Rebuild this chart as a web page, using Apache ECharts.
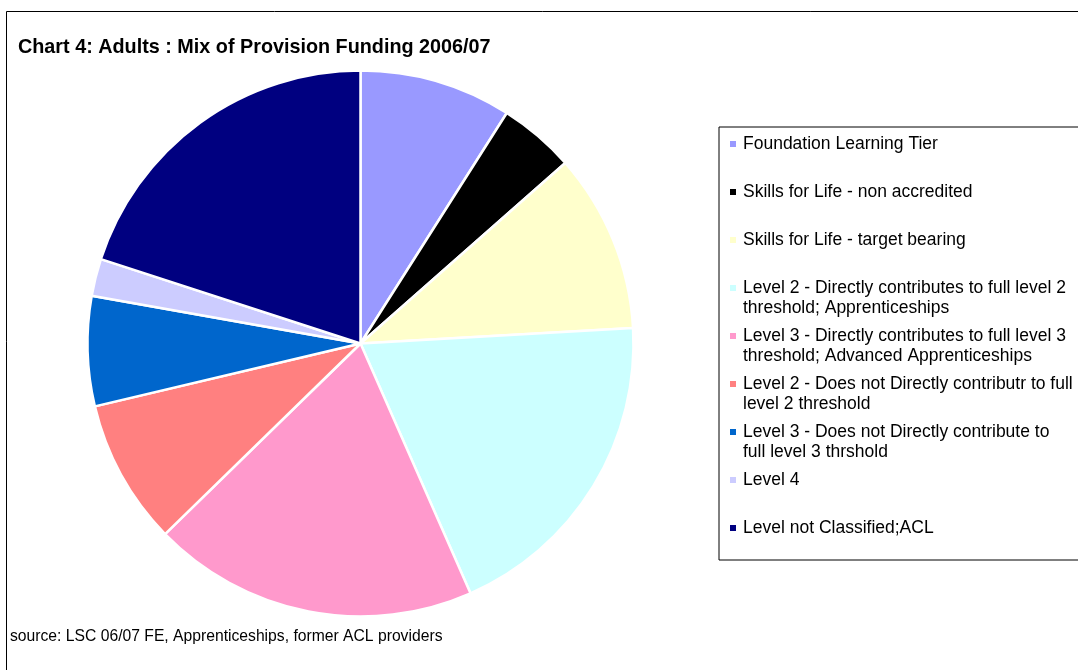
<!DOCTYPE html>
<html>
<head>
<meta charset="utf-8">
<script src="https://cdn.jsdelivr.net/npm/echarts@6/dist/echarts.min.js"></script>
<style>html,body{margin:0;padding:0;background:#fff;}#c{width:1078px;height:670px;}</style>
</head>
<body>
<div id="c"></div>
<script>
var categories = [
  'Foundation Learning Tier',
  'Skills for Life - non accredited',
  'Skills for Life - target bearing',
  'Level 2 - Directly contributes to full level 2\nthreshold; Apprenticeships',
  'Level 3 - Directly contributes to full level 3\nthreshold; Advanced Apprenticeships',
  'Level 2 - Does not Directly contributr to full\nlevel 2 threshold',
  'Level 3 - Does not Directly contribute to\nfull level 3 thrshold',
  'Level 4',
  'Level not Classified;ACL'
];
var values = [9.0, 4.5, 10.6, 19.3, 19.3, 8.6, 6.5, 2.2, 20.0];
var colors = ['#9999FF', '#000000', '#FFFFCC', '#CCFFFF', '#FF99CC', '#FF8080', '#0066CC', '#CCCCFF', '#000080'];
var titleText = 'Chart 4: Adults : Mix of Provision Funding 2006/07';
var sourceText = 'source: LSC 06/07 FE, Apprenticeships, former ACL providers';

var FONT = '"Liberation Sans", Arial, sans-serif';
var chart = echarts.init(document.getElementById('c'), null, {renderer: 'canvas'});

var rich = {
  gap: {width: 7, height: 6},
  ind: {width: 13, height: 6}
};
colors.forEach(function (c, i) {
  rich['c' + i] = {width: 6, height: 6, backgroundColor: c};
});

var data = categories.map(function (n, i) {
  return {name: n, value: values[i], itemStyle: {color: colors[i]}};
});

chart.setOption({
  animation: false,
  backgroundColor: '#ffffff',
  title: [
    {
      text: titleText, left: 18, top: 38, padding: 0,
      textStyle: {fontFamily: FONT, fontSize: 19.8, fontWeight: 'bold', color: '#000'}
    },
    {
      text: sourceText, left: 10, top: 629, padding: 0,
      textStyle: {fontFamily: FONT, fontSize: 15.7, fontWeight: 'normal', color: '#000'}
    }
  ],
  legend: {
    orient: 'vertical',
    left: 719, top: 127,
    padding: [7, 80, 2, 5],
    icon: 'none',
    itemWidth: 1, itemHeight: 6,
    itemGap: 8,
    borderColor: '#000', borderWidth: 1,
    selectedMode: false,
    data: categories,
    formatter: function (name) {
      var i = categories.indexOf(name);
      var lines = name.split('\n');
      var second = lines.length > 1 ? lines[1] : ' ';
      return '{c' + i + '|}{gap|}' + lines[0] + '\n{ind|}' + second;
    },
    textStyle: {fontFamily: FONT, fontSize: 17.5, color: '#000', lineHeight: 20, rich: rich}
  },
  graphic: [
    {type: 'rect', shape: {x: 6.5, y: 11.5, width: 1200, height: 800}, style: {fill: 'none', stroke: '#000', lineWidth: 1}, silent: true, z: -1}
  ],
  series: [{
    type: 'pie',
    center: [360.5, 343.5],
    radius: 273,
    startAngle: 90,
    clockwise: true,
    label: {show: false},
    labelLine: {show: false},
    emphasis: {disabled: true},
    itemStyle: {borderColor: '#ffffff', borderWidth: 2.5},
    data: data
  }]
});
</script>
</body>
</html>
